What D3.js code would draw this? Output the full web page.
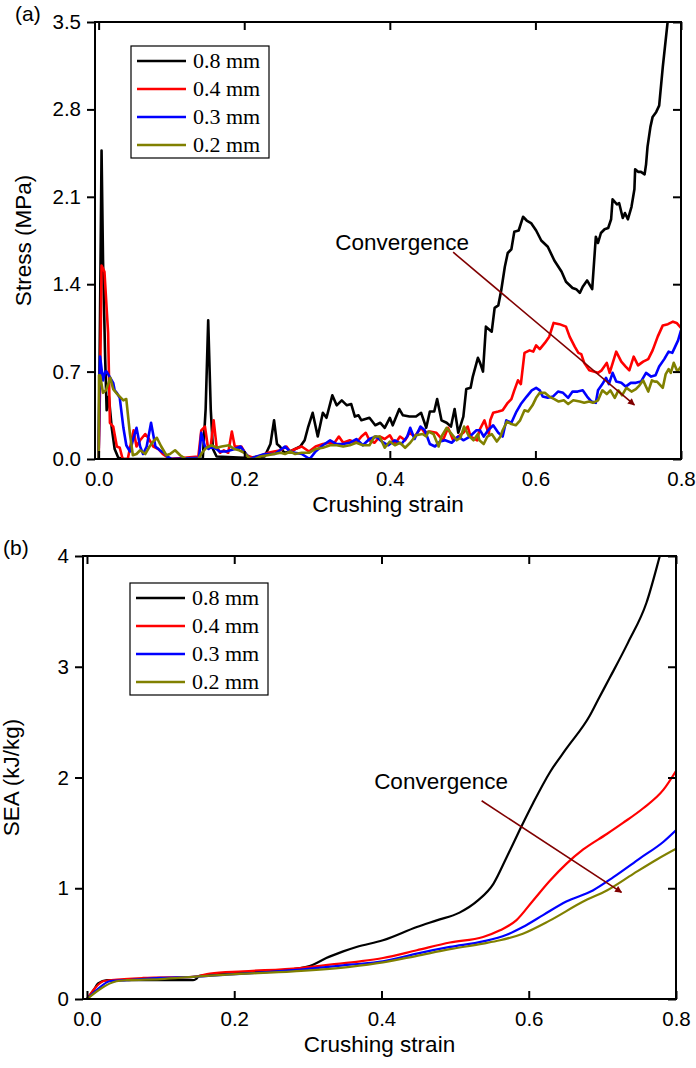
<!DOCTYPE html>
<html><head><meta charset="utf-8">
<script src="https://cdn.jsdelivr.net/npm/d3@7"></script>
<style>body{margin:0;background:#fff}svg{display:block}</style>
</head><body>
<svg id="c" width="696" height="1068"></svg>
<script>
const seriesNames = ["0.8 mm","0.4 mm","0.3 mm","0.2 mm"];
const seriesColors = ["#000000","#ff0000","#0000ff","#808000"];
const xTicks = [0.0,0.2,0.4,0.6,0.8];
const yTicksA = [0.0,0.7,1.4,2.1,2.8,3.5];
const yTicksB = [0,1,2,3,4];

const stress08 = [[0,0],[0.002,1.2],[0.004,2.47],[0.006,1.6],[0.009,0.8],[0.011,0.39],[0.014,0.5],[0.018,0.25],[0.022,0.08],[0.027,0.01],[0.035,0],[0.143,0],[0.147,0.4],[0.1505,1.11],[0.154,0.4],[0.157,0.08],[0.162,0.02],[0.2,0.01],[0.228,0.02],[0.236,0.12],[0.241,0.31],[0.245,0.12],[0.249,0.1],[0.255,0.05],[0.263,0.06],[0.277,0.1],[0.283,0.15],[0.288,0.26],[0.294,0.37],[0.301,0.18],[0.308,0.37],[0.313,0.33],[0.321,0.51],[0.327,0.43],[0.334,0.47],[0.341,0.43],[0.347,0.44],[0.352,0.34],[0.357,0.35],[0.361,0.31],[0.372,0.33],[0.38,0.27],[0.387,0.29],[0.393,0.25],[0.4,0.33],[0.404,0.27],[0.413,0.4],[0.418,0.35],[0.427,0.34],[0.436,0.34],[0.443,0.37],[0.45,0.25],[0.455,0.38],[0.461,0.38],[0.465,0.48],[0.471,0.31],[0.478,0.29],[0.484,0.26],[0.489,0.4],[0.494,0.21],[0.501,0.34],[0.505,0.56],[0.511,0.57],[0.514,0.66],[0.521,0.81],[0.524,0.77],[0.528,0.70],[0.532,1.06],[0.540,1.02],[0.544,1.21],[0.549,1.23],[0.553,1.35],[0.558,1.54],[0.562,1.65],[0.567,1.68],[0.571,1.82],[0.577,1.83],[0.583,1.94],[0.588,1.91],[0.594,1.89],[0.601,1.83],[0.608,1.75],[0.617,1.70],[0.626,1.59],[0.636,1.50],[0.642,1.42],[0.651,1.37],[0.656,1.36],[0.661,1.33],[0.665,1.38],[0.671,1.43],[0.678,1.36],[0.683,1.78],[0.686,1.73],[0.690,1.81],[0.695,1.84],[0.700,1.85],[0.704,1.92],[0.706,2.08],[0.712,2.04],[0.715,2.05],[0.720,1.93],[0.723,1.97],[0.727,1.92],[0.732,2.02],[0.736,2.16],[0.737,2.32],[0.741,2.30],[0.745,2.30],[0.750,2.28],[0.752,2.36],[0.754,2.50],[0.758,2.66],[0.761,2.74],[0.766,2.78],[0.770,2.83],[0.775,3.14],[0.782,3.52],[0.79,4.0]];
const stress04 = [[0,0],[0.002,0.6],[0.004,1.55],[0.008,1.50],[0.013,1.01],[0.0155,0.29],[0.02,0.26],[0.025,0.10],[0.029,0.09],[0.033,0.0],[0.04,0.0],[0.048,0.23],[0.052,0.1],[0.057,0.15],[0.064,0.2],[0.068,0.17],[0.075,0.1],[0.082,0.08],[0.088,0.04],[0.098,0],[0.137,0.02],[0.141,0.23],[0.146,0.26],[0.150,0.1],[0.154,0.1],[0.158,0.31],[0.162,0.1],[0.167,0.05],[0.172,0.07],[0.178,0.05],[0.183,0.22],[0.187,0.1],[0.191,0.1],[0.196,0.1],[0.203,0.03],[0.212,0.01],[0.22,0.02],[0.233,0.05],[0.241,0.06],[0.25,0.07],[0.258,0.1],[0.263,0.06],[0.270,0.08],[0.279,0.1],[0.289,0.06],[0.298,0.1],[0.308,0.12],[0.318,0.13],[0.324,0.13],[0.330,0.18],[0.336,0.13],[0.345,0.15],[0.354,0.13],[0.361,0.18],[0.367,0.21],[0.372,0.15],[0.379,0.13],[0.386,0.18],[0.393,0.16],[0.400,0.19],[0.407,0.12],[0.414,0.18],[0.421,0.15],[0.427,0.21],[0.434,0.18],[0.443,0.25],[0.448,0.21],[0.455,0.22],[0.464,0.21],[0.473,0.15],[0.48,0.25],[0.487,0.15],[0.494,0.18],[0.501,0.21],[0.507,0.26],[0.511,0.18],[0.520,0.15],[0.523,0.23],[0.530,0.31],[0.536,0.2],[0.538,0.31],[0.542,0.37],[0.549,0.38],[0.555,0.39],[0.562,0.45],[0.567,0.48],[0.571,0.55],[0.576,0.63],[0.580,0.60],[0.585,0.85],[0.592,0.87],[0.597,0.86],[0.601,0.91],[0.606,0.88],[0.613,0.93],[0.619,0.98],[0.625,1.09],[0.633,1.08],[0.642,1.06],[0.647,0.98],[0.654,0.90],[0.659,0.85],[0.663,0.84],[0.667,0.77],[0.674,0.71],[0.680,0.70],[0.686,0.69],[0.691,0.71],[0.698,0.77],[0.702,0.69],[0.711,0.86],[0.718,0.78],[0.724,0.74],[0.729,0.71],[0.735,0.82],[0.741,0.75],[0.748,0.78],[0.755,0.80],[0.761,0.87],[0.768,0.98],[0.775,1.07],[0.782,1.08],[0.789,1.10],[0.794,1.09],[0.800,1.05]];
const stress03 = [[0,0],[0.001,0.5],[0.002,0.82],[0.006,0.63],[0.009,0.70],[0.011,0.70],[0.016,0.65],[0.020,0.61],[0.022,0.55],[0.025,0.53],[0.029,0.49],[0.034,0.25],[0.038,0.11],[0.043,0.06],[0.048,0.17],[0.052,0.25],[0.057,0.1],[0.061,0.04],[0.066,0.1],[0.072,0.29],[0.078,0.1],[0.084,0.07],[0.090,0.05],[0.094,0.02],[0.1,0],[0.138,0.01],[0.141,0.21],[0.146,0.1],[0.151,0.08],[0.155,0.1],[0.162,0.08],[0.166,0.06],[0.175,0.06],[0.187,0.08],[0.195,0.1],[0.200,0.06],[0.208,0.0],[0.217,0.02],[0.228,0.04],[0.242,0.04],[0.256,0.1],[0.263,0.06],[0.270,0.05],[0.279,0.04],[0.29,0.0],[0.298,0.06],[0.308,0.11],[0.318,0.15],[0.327,0.12],[0.336,0.12],[0.345,0.13],[0.354,0.16],[0.363,0.11],[0.372,0.16],[0.381,0.18],[0.389,0.14],[0.398,0.11],[0.407,0.15],[0.416,0.12],[0.424,0.18],[0.428,0.25],[0.434,0.16],[0.442,0.26],[0.448,0.23],[0.455,0.12],[0.462,0.1],[0.469,0.14],[0.476,0.15],[0.485,0.13],[0.494,0.18],[0.501,0.15],[0.510,0.18],[0.519,0.23],[0.524,0.23],[0.529,0.18],[0.535,0.23],[0.542,0.27],[0.549,0.21],[0.555,0.18],[0.560,0.31],[0.567,0.29],[0.574,0.38],[0.580,0.44],[0.588,0.50],[0.595,0.55],[0.601,0.57],[0.606,0.55],[0.610,0.50],[0.617,0.49],[0.624,0.50],[0.631,0.54],[0.638,0.53],[0.645,0.49],[0.651,0.54],[0.658,0.54],[0.665,0.55],[0.671,0.50],[0.677,0.46],[0.683,0.45],[0.686,0.55],[0.692,0.60],[0.697,0.65],[0.701,0.60],[0.706,0.69],[0.711,0.62],[0.718,0.61],[0.724,0.58],[0.731,0.61],[0.738,0.61],[0.745,0.62],[0.752,0.69],[0.759,0.66],[0.765,0.67],[0.770,0.74],[0.777,0.80],[0.783,0.86],[0.788,0.85],[0.792,0.90],[0.796,0.95],[0.800,1.03]];
const stress02 = [[0,0],[0.0005,0.67],[0.002,0.67],[0.006,0.53],[0.010,0.55],[0.016,0.65],[0.020,0.56],[0.024,0.53],[0.029,0.50],[0.034,0.47],[0.038,0.48],[0.043,0.20],[0.047,0.03],[0.052,0.04],[0.057,0.07],[0.064,0.04],[0.070,0.1],[0.075,0.14],[0.080,0.17],[0.086,0.1],[0.093,0.03],[0.098,0.04],[0.105,0.07],[0.112,0.03],[0.120,0.0],[0.137,0.0],[0.142,0.05],[0.148,0.09],[0.155,0.11],[0.162,0.09],[0.169,0.1],[0.179,0.11],[0.186,0.08],[0.193,0.07],[0.2,0.05],[0.208,0.0],[0.215,0.0],[0.222,0.02],[0.232,0.03],[0.241,0.04],[0.25,0.05],[0.256,0.04],[0.263,0.06],[0.270,0.04],[0.279,0.05],[0.289,0.05],[0.298,0.08],[0.308,0.09],[0.318,0.11],[0.327,0.11],[0.336,0.1],[0.345,0.11],[0.354,0.13],[0.363,0.11],[0.372,0.11],[0.379,0.18],[0.386,0.18],[0.393,0.09],[0.400,0.14],[0.407,0.11],[0.414,0.13],[0.421,0.09],[0.428,0.13],[0.436,0.19],[0.445,0.2],[0.450,0.18],[0.453,0.22],[0.460,0.2],[0.467,0.1],[0.471,0.18],[0.478,0.25],[0.485,0.2],[0.492,0.15],[0.497,0.17],[0.502,0.26],[0.508,0.19],[0.515,0.15],[0.521,0.2],[0.523,0.15],[0.529,0.12],[0.534,0.18],[0.540,0.2],[0.547,0.14],[0.552,0.18],[0.555,0.23],[0.561,0.30],[0.567,0.28],[0.573,0.27],[0.579,0.31],[0.585,0.39],[0.590,0.38],[0.596,0.43],[0.601,0.49],[0.606,0.53],[0.613,0.53],[0.619,0.50],[0.626,0.48],[0.632,0.46],[0.639,0.47],[0.645,0.44],[0.652,0.47],[0.661,0.46],[0.667,0.45],[0.674,0.46],[0.679,0.45],[0.686,0.47],[0.692,0.55],[0.698,0.52],[0.703,0.55],[0.709,0.49],[0.714,0.55],[0.719,0.51],[0.725,0.57],[0.732,0.54],[0.738,0.56],[0.743,0.59],[0.748,0.63],[0.755,0.54],[0.760,0.63],[0.764,0.62],[0.767,0.62],[0.775,0.57],[0.779,0.68],[0.783,0.72],[0.786,0.69],[0.790,0.77],[0.795,0.70],[0.800,0.74]];

const sea08 = [[0,0],[0.009,0.08],[0.015,0.14],[0.027,0.17],[0.05,0.17],[0.1,0.17],[0.144,0.17],[0.148,0.18],[0.153,0.21],[0.19,0.23],[0.24,0.25],[0.28,0.27],[0.307,0.31],[0.325,0.37],[0.348,0.43],[0.366,0.47],[0.402,0.53],[0.448,0.65],[0.475,0.71],[0.506,0.78],[0.531,0.89],[0.552,1.04],[0.570,1.28],[0.588,1.53],[0.606,1.77],[0.629,2.05],[0.651,2.26],[0.683,2.56],[0.694,2.70],[0.71,2.90],[0.735,3.22],[0.76,3.58],[0.778,4.0],[0.79,4.3]];
const sea04 = [[0,0],[0.011,0.1],[0.022,0.16],[0.033,0.17],[0.076,0.19],[0.144,0.2],[0.167,0.23],[0.212,0.25],[0.289,0.28],[0.330,0.31],[0.371,0.34],[0.402,0.37],[0.448,0.44],[0.493,0.51],[0.538,0.56],[0.561,0.62],[0.583,0.71],[0.606,0.89],[0.629,1.07],[0.651,1.22],[0.674,1.35],[0.706,1.49],[0.728,1.59],[0.755,1.72],[0.783,1.89],[0.801,2.07]];
const sea03 = [[0,0],[0.013,0.08],[0.031,0.16],[0.054,0.17],[0.1,0.19],[0.144,0.2],[0.19,0.22],[0.28,0.26],[0.357,0.31],[0.402,0.34],[0.448,0.41],[0.493,0.47],[0.538,0.52],[0.570,0.58],[0.592,0.65],[0.620,0.76],[0.651,0.88],[0.687,0.98],[0.715,1.10],[0.751,1.27],[0.783,1.42],[0.801,1.53]];
const sea02 = [[0,0],[0.04,0.16],[0.054,0.17],[0.1,0.18],[0.144,0.2],[0.19,0.22],[0.28,0.25],[0.357,0.29],[0.402,0.33],[0.448,0.39],[0.493,0.45],[0.538,0.50],[0.561,0.53],[0.592,0.59],[0.629,0.71],[0.674,0.88],[0.706,0.98],[0.742,1.13],[0.774,1.26],[0.801,1.36]];

// annotation anchors in data units
const arrowA = [[0.487,1.656],[0.736,0.433]];
const labelA = [0.325,1.675];
const arrowB = [[0.536,1.79],[0.726,0.963]];
const labelB = [0.39,1.896];

const svg = d3.select("#c");
const defs = svg.append("defs");
defs.append("marker").attr("id","ah").attr("viewBox","0 0 10 10").attr("refX",9).attr("refY",5)
  .attr("markerWidth",9).attr("markerHeight",7).attr("markerUnits","userSpaceOnUse").attr("orient","auto")
  .append("path").attr("d","M0,0 L10,5 L0,10 Z").attr("fill","#800000");

function panel(o){
  const {id,left,right,top,bottom,xDom,yDom,yTicks,yFmt,series,curve,lw,ylabel,tag,legX,legY,arrow,label} = o;
  const x = d3.scaleLinear().domain(xDom).range([left,right]);
  const y = d3.scaleLinear().domain(yDom).range([bottom,top]);
  const g = svg.append("g");
  defs.append("clipPath").attr("id","clip"+id).append("rect")
    .attr("x",left).attr("y",top).attr("width",right-left).attr("height",bottom-top);
  const line = d3.line().x(d=>x(d[0])).y(d=>y(d[1])).curve(curve);
  const lg = g.append("g").attr("clip-path","url(#clip"+id+")");
  series.forEach((s,i)=>{
    lg.append("path").datum(s).attr("d",line).attr("fill","none")
      .attr("stroke",seriesColors[i]).attr("stroke-width",lw).attr("stroke-linejoin","round");
  });
  const font = "Liberation Sans, Arial, sans-serif";
  const bx = g.append("g").attr("transform",`translate(0,${bottom})`)
    .call(d3.axisBottom(x).tickValues(xTicks).tickFormat(d3.format(".1f")).tickSizeInner(-8).tickSizeOuter(0).tickPadding(12));
  const tx = g.append("g").attr("transform",`translate(0,${top})`)
    .call(d3.axisTop(x).tickValues(xTicks).tickFormat("").tickSizeInner(-8).tickSizeOuter(0));
  const ly = g.append("g").attr("transform",`translate(${left},0)`)
    .call(d3.axisLeft(y).tickValues(yTicks).tickFormat(yFmt).tickSizeInner(8).tickSizeOuter(0).tickPadding(6));
  const ry = g.append("g").attr("transform",`translate(${right},0)`)
    .call(d3.axisRight(y).tickValues(yTicks).tickFormat("").tickSizeInner(-8).tickSizeOuter(0));
  [bx,tx,ly,ry].forEach(a=>{
    a.selectAll(".domain").remove();
    a.selectAll(".tick line").attr("stroke","#000").attr("stroke-width",2);
    a.selectAll("text").attr("font-family",font).attr("font-size",20.5).attr("fill","#000");
  });
  g.append("rect").attr("x",left).attr("y",top).attr("width",right-left).attr("height",bottom-top)
    .attr("fill","none").attr("stroke","#000").attr("stroke-width",2);
  g.append("text").attr("x",(left+right)/2).attr("y",bottom+53).attr("text-anchor","middle")
    .attr("font-family",font).attr("font-size",22.5).text("Crushing strain");
  g.append("text").attr("transform",`translate(${left-64},${(top+bottom)/2}) rotate(-90)`).attr("text-anchor","middle")
    .attr("font-family",font).attr("font-size",22.5).text(ylabel);
  g.append("text").attr("x",left-80).attr("y",top-1).attr("font-family",font).attr("font-size",21).text(tag);
  const lgx = left+legX, lgy = top+legY;
  const leg = g.append("g");
  leg.append("rect").attr("x",lgx).attr("y",lgy).attr("width",138).attr("height",112)
    .attr("fill","#fff").attr("stroke","#000").attr("stroke-width",1.2);
  seriesNames.forEach((n,i)=>{
    const yy = lgy+15+i*28;
    leg.append("line").attr("x1",lgx+6).attr("x2",lgx+55).attr("y1",yy).attr("y2",yy)
      .attr("stroke",seriesColors[i]).attr("stroke-width",2.5);
    leg.append("text").attr("x",lgx+62).attr("y",yy+7).attr("font-family","Liberation Serif, Times New Roman, serif")
      .attr("font-size",22).text(n);
  });
  g.append("line").attr("x1",x(arrow[0][0])).attr("y1",y(arrow[0][1])).attr("x2",x(arrow[1][0])).attr("y2",y(arrow[1][1]))
    .attr("stroke","#800000").attr("stroke-width",1.6).attr("marker-end","url(#ah)");
  g.append("text").attr("x",x(label[0])).attr("y",y(label[1])).attr("font-family",font).attr("font-size",22.5).text("Convergence");
}

panel({id:"a",left:95,right:681,top:22,bottom:459,xDom:[-0.005,0.8],yDom:[0,3.5],yTicks:yTicksA,yFmt:d3.format(".1f"),
  series:[stress08,stress04,stress03,stress02],curve:d3.curveLinear,lw:2.6,ylabel:"Stress (MPa)",tag:"(a)",legX:36,legY:24,arrow:arrowA,label:labelA});
panel({id:"b",left:83,right:676,top:556,bottom:999,xDom:[-0.0054,0.8],yDom:[0,4],yTicks:yTicksB,yFmt:d3.format("d"),
  series:[sea08,sea04,sea03,sea02],curve:d3.curveMonotoneX,lw:2.2,ylabel:"SEA (kJ/kg)",tag:"(b)",legX:47,legY:27,arrow:arrowB,label:labelB});
</script>
</body></html>
